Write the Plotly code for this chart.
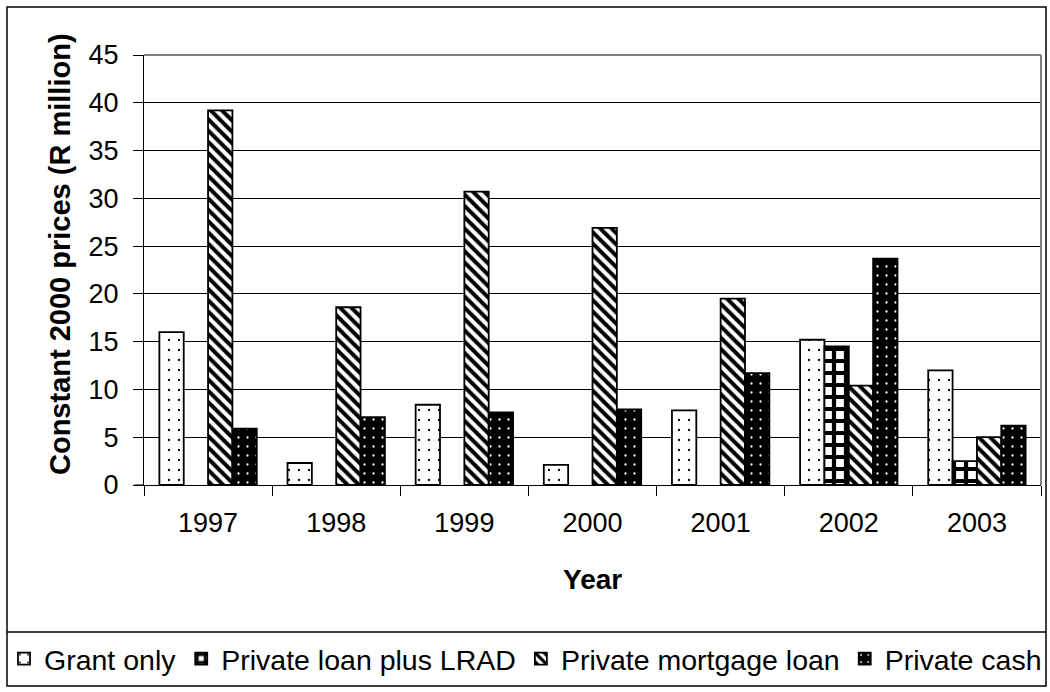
import plotly.graph_objects as go

years = ["1997", "1998", "1999", "2000", "2001", "2002", "2003"]
grant_only = [16.0, 2.3, 8.4, 2.1, 7.8, 15.2, 12.0]
loan_lrad = [None, None, None, None, None, 14.5, 2.5]
mortgage = [39.2, 18.6, 30.7, 26.9, 19.5, 10.4, 5.0]
cash = [5.9, 7.1, 7.6, 7.9, 11.7, 23.7, 6.2]
y_ticks = [0, 5, 10, 15, 20, 25, 30, 35, 40, 45]

FONT = "Liberation Sans, Arial, sans-serif"
W, H = 1050, 692
L, R, T, B = 144, 9, 55, 207
pw, ph = W - L - R, H - T - B


def px_x(p):
    return (p - L) / pw


def px_y(p):
    return (H - B - p) / ph


line = dict(color="black", width=1.8)
fig = go.Figure()
fig.add_bar(x=years, y=grant_only, name="Grant only",
            marker=dict(color="white", line=line,
                        pattern=dict(shape=".", fgcolor="black", bgcolor="white",
                                     size=10, solidity=0.04, fillmode="replace")))
fig.add_bar(x=years, y=loan_lrad, name="Private loan plus LRAD",
            marker=dict(color="white", line=line,
                        pattern=dict(shape="+", fgcolor="black", bgcolor="white",
                                     size=12, solidity=0.58, fillmode="replace")))
fig.add_bar(x=years, y=mortgage, name="Private mortgage loan",
            marker=dict(color="white", line=line,
                        pattern=dict(shape="\\", fgcolor="black", bgcolor="white",
                                     size=8, solidity=0.5, fillmode="replace")))
fig.add_bar(x=years, y=cash, name="Private cash",
            marker=dict(color="black", line=line,
                        pattern=dict(shape=".", fgcolor="white", bgcolor="black",
                                     size=9, solidity=0.05, fillmode="replace")))

fig.update_layout(
    width=W, height=H,
    margin=dict(l=L, r=R, t=T, b=B, autoexpand=False),
    paper_bgcolor="white", plot_bgcolor="white",
    barmode="group", bargap=0.24, bargroupgap=0,
    font=dict(family=FONT, size=27, color="black"),
    showlegend=True,
    legend=dict(orientation="h", x=px_x(4), xanchor="left",
                y=px_y(659), yanchor="middle",
                font=dict(family=FONT, size=28.5, color="black"),
                bgcolor="rgba(0,0,0,0)", borderwidth=0,
                itemclick=False, traceorder="normal"),
    xaxis=dict(type="category", showline=True, linecolor="black", linewidth=1,
               ticks="outside", ticklen=10, tickcolor="black", tickson="boundaries",
               showgrid=False, tickfont=dict(size=27), ticklabelstandoff=14),
    yaxis=dict(range=[0, 45], tickvals=y_ticks, showline=True, linecolor="black",
               linewidth=1, ticks="outside", ticklen=10, tickcolor="black",
               showgrid=True, gridcolor="black", gridwidth=1, zeroline=False,
               tickfont=dict(size=27), ticklabelstandoff=9),
    annotations=[
        dict(text="<b>Constant 2000 prices (R million)</b>", textangle=-90,
             xref="paper", yref="paper", x=px_x(60), y=px_y(254),
             xanchor="center", yanchor="middle", showarrow=False,
             font=dict(family=FONT, size=29, color="black")),
        dict(text="<b>Year</b>", xref="paper", yref="paper",
             x=px_x(592), y=px_y(579), xanchor="center", yanchor="middle",
             showarrow=False, font=dict(family=FONT, size=28, color="black")),
    ],
    shapes=[
        # plot-area frame (gray, top and right)
        dict(type="line", xref="paper", yref="paper", x0=0, x1=1, y0=1, y1=1,
             line=dict(color="#808080", width=2), layer="above"),
        dict(type="line", xref="paper", yref="paper", x0=1, x1=1, y0=0, y1=1,
             line=dict(color="#808080", width=2), layer="above"),
        # x-axis line stub extending left of the y axis
        dict(type="line", xref="paper", yref="paper", x0=px_x(134), x1=0,
             y0=0, y1=0, line=dict(color="black", width=1)),
        # outer chart border
        dict(type="rect", xref="paper", yref="paper",
             x0=px_x(7), x1=px_x(1046), y0=px_y(686), y1=px_y(7),
             line=dict(color="black", width=1.5), fillcolor="rgba(0,0,0,0)"),
        # legend box top line
        dict(type="line", xref="paper", yref="paper",
             x0=px_x(7), x1=px_x(1046), y0=px_y(632), y1=px_y(632),
             line=dict(color="black", width=1.5)),
    ],
)

fig.write_html("out.html")
